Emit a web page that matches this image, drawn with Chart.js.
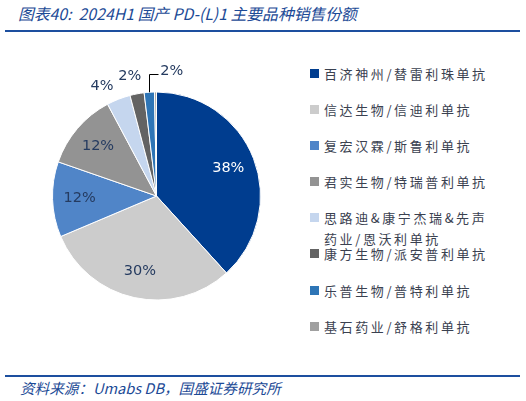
<!DOCTYPE html>
<html>
<head>
<meta charset="utf-8">
<script src="https://cdn.jsdelivr.net/npm/chart.js@4"></script>
<style>
  html, body { margin: 0; padding: 0; background: #fff; }
  body { width: 526px; height: 401px; position: relative; overflow: hidden; }
  .title {
    position: absolute; left: 18px; top: 2px;
    font: italic 15.8px "Noto Sans CJK SC", "DejaVu Sans", sans-serif;
    color: #1c4a96; white-space: pre;
  }
  .rule { position: absolute; left: 5px; width: 515px; height: 2px; background: #1d4f9f; }
  .source {
    position: absolute; left: 20px; top: 377px;
    font: italic 14.6px "Noto Sans CJK SC", "DejaVu Sans", sans-serif;
    color: #1c4a96; white-space: pre;
  }
  #chartBox { position: absolute; left: 0; top: 40px; width: 300px; height: 320px; }
  #legend { position: absolute; left: 310px; top: 55px; }
  .item { position: relative; height: 36.1px; }
  .swatch { position: absolute; left: 0; top: 14px; width: 9px; height: 9px; }
  .label {
    position: absolute; left: 14px; top: 8px; width: 172px;
    font: 13px "Noto Sans CJK SC", sans-serif; letter-spacing: 2.6px;
    line-height: 21px; color: #3a4150;
  }
</style>
</head>
<body>
<div class="title">图表40:  2024H1 国产 PD-(L)1 主要品种销售份额</div>
<div class="rule" style="top:30px"></div>
<div id="chartBox"><canvas id="pieChart" width="300" height="320"></canvas></div>
<div id="legend"></div>
<div class="rule" style="top:375px"></div>
<div class="source">资料来源：Umabs DB，国盛证券研究所</div>
<script>
const products = [
  "百济神州/替雷利珠单抗",
  "信达生物/信迪利单抗",
  "复宏汉霖/斯鲁利单抗",
  "君实生物/特瑞普利单抗",
  "思路迪&康宁杰瑞&先声药业/恩沃利单抗",
  "康方生物/派安普利单抗",
  "乐普生物/普特利单抗",
  "基石药业/舒格利单抗",
];
const shares = [38.3, 30.4, 11.7, 11.9, 3.7, 2.2, 1.6, 0.3];

const sliceColors = ["#003d8f", "#cccccc", "#5085c8", "#939393", "#c5d6ee", "#636363", "#2e75b6", "#a0a0a0"];

// how each percentage label sits: inside, outside, or with a leader line
const labelPlacement = ["in", "in", "in", "in", "out", "out", "leader", "none"];
const labelNudge = [null, null, null, null, [-10, 4], [-4, 0], null, null];

const pctLabels = {
  id: "pctLabels",
  afterDatasetsDraw(chart) {
    const ctx = chart.ctx;
    const meta = chart.getDatasetMeta(0);
    const data = chart.data.datasets[0].data;
    const total = data.reduce((a, b) => a + b, 0);
    ctx.save();
    ctx.font = '14.5px "DejaVu Sans", sans-serif';
    ctx.textBaseline = "middle";
    meta.data.forEach((arc, i) => {
      const mode = labelPlacement[i];
      if (mode === "none") return;
      const { x, y, startAngle, endAngle, outerRadius } = arc.getProps(
        ["x", "y", "startAngle", "endAngle", "outerRadius"], true);
      const mid = (startAngle + endAngle) / 2;
      const text = `${Math.round((data[i] / total) * 100)}%`;
      if (mode === "in") {
        const r = outerRadius * 0.74;
        ctx.fillStyle = i === 0 ? "#ffffff" : "#253b60";
        ctx.textAlign = "center";
        ctx.fillText(text, x + Math.cos(mid) * r, y + Math.sin(mid) * r);
      } else if (mode === "out") {
        const r = outerRadius * 1.17;
        const n = labelNudge[i] || [0, 0];
        ctx.fillStyle = "#253b60";
        ctx.textAlign = "center";
        ctx.fillText(text, x + Math.cos(mid) * r + n[0], y + Math.sin(mid) * r + n[1]);
      } else if (mode === "leader") {
        const sx = x + Math.cos(mid) * outerRadius;
        const sy = y + Math.sin(mid) * outerRadius;
        const ly = y - outerRadius - 18;
        ctx.strokeStyle = "#000000";
        ctx.lineWidth = 1;
        ctx.beginPath();
        ctx.moveTo(Math.round(sx) + 0.5, sy);
        ctx.lineTo(Math.round(sx) + 0.5, Math.round(ly) + 0.5);
        ctx.lineTo(Math.round(sx) + 9.5, Math.round(ly) + 0.5);
        ctx.stroke();
        ctx.fillStyle = "#253b60";
        ctx.textAlign = "left";
        ctx.fillText(text, sx + 11, ly - 3);
      }
    });
    ctx.restore();
  },
};

const chart = new Chart(document.getElementById("pieChart"), {
  type: "pie",
  data: {
    labels: products,
    datasets: [{
      data: shares,
      backgroundColor: sliceColors,
      borderColor: "#ffffff",
      borderWidth: 1,
    }],
  },
  options: {
    responsive: false,
    animation: false,
    layout: { padding: { left: 52, top: 51.5, right: 39, bottom: 59.5 } },
    plugins: {
      legend: { display: false },
      tooltip: { enabled: false },
    },
  },
  plugins: [pctLabels],
});

// legend built from the chart's own legend items
const legendBox = document.getElementById("legend");
legendBox.innerHTML = chart.options.plugins.legend.labels
  .generateLabels(chart)
  .map((item) => `
    <div class="item">
      <span class="swatch" style="background:${item.fillStyle}"></span>
      <span class="label">${item.text}</span>
    </div>`)
  .join("");
</script>
</body>
</html>
